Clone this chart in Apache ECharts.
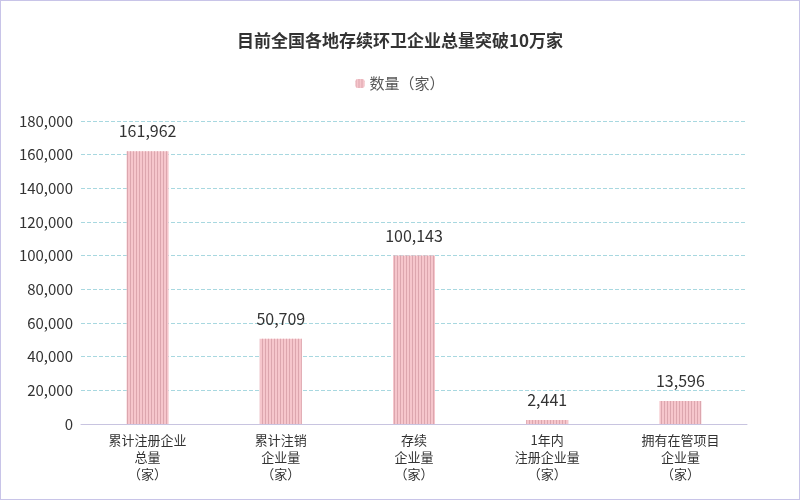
<!DOCTYPE html>
<html><head><meta charset="utf-8">
<script src="https://cdn.jsdelivr.net/npm/echarts@6/dist/echarts.min.js"></script>
<style>body{margin:0}#c{width:798px;height:498px;border:1px solid #c8c4e8}</style>
</head><body><div id="c"></div>
<script>
let categories = ['累计注册企业\n总量\n（家）', '累计注销\n企业量\n（家）', '存续\n企业量\n（家）', '1年内\n注册企业量\n（家）', '拥有在管项目\n企业量\n（家）'];
let values = [161962, 50709, 100143, 2441, 13596];
let seriesName = '数量（家）';

let chart = echarts.init(document.getElementById('c'));
chart.setOption({
  textStyle: { fontFamily: 'Noto Sans CJK SC' },
  title: {
    text: '目前全国各地存续环卫企业总量突破10万家',
    left: 'center', top: 26,
    textStyle: { fontSize: 17, fontWeight: 'bold', color: '#333' }
  },
  legend: {
    data: [seriesName], top: 70, itemWidth: 9, itemHeight: 9,
    textStyle: { fontSize: 15, color: '#555' }
  },
  grid: { left: 80, right: 52, top: 120, bottom: 75 },
  xAxis: {
    type: 'category', data: categories,
    axisTick: { show: false },
    axisLine: { lineStyle: { color: '#c8c4e0' } },
    axisLabel: { fontSize: 13, color: '#333', lineHeight: 17, interval: 0 }
  },
  yAxis: {
    type: 'value', min: 0, max: 180000, interval: 20000,
    axisLabel: { fontSize: 15, color: '#333', formatter: v => v.toLocaleString('en-US') },
    splitLine: { lineStyle: { type: 'dashed', color: '#a8d8e0' } }
  },
  series: [{
    name: seriesName, type: 'bar', data: values, barWidth: 42,
    itemStyle: {
      color: '#f6c6cc',
      decal: { symbol: 'rect', dashArrayX: [1, 2], dashArrayY: [10, 0], color: '#dca6ae', symbolSize: 1 }
    },
    label: {
      show: true, position: 'top', distance: 12, fontSize: 16, color: '#333',
      formatter: p => p.value.toLocaleString('en-US')
    }
  }]
});
</script></body></html>
